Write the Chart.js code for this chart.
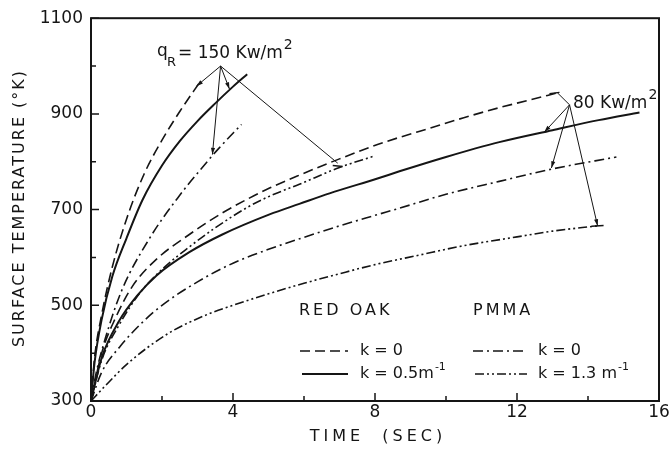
<!DOCTYPE html>
<html>
<head>
<meta charset="utf-8">
<script src="https://cdn.jsdelivr.net/npm/chart.js@4.4.1/dist/chart.umd.min.js"></script>
<style>
  html, body { margin: 0; background: #fff; }
  #wrap { width: 671px; height: 454px; }
</style>
</head>
<body>
<div id="wrap"><canvas id="chart"></canvas></div>
<script>
// tick values
const xTicks = [0, 4, 8, 12, 16];
const xMinor = [2, 6, 10, 14];
const yTicks = [300, 500, 700, 900, 1100];
const yMinor = [400, 600, 800, 1000];

// qR = 150 kW/m2
const oak0HiTime = [0, 0.1, 0.3, 0.6, 1, 1.5, 2, 2.5, 3.1];
const oak0HiTemp = [300, 390, 480, 580, 680, 775, 845, 905, 970];
const oak5HiTime = [0, 0.1, 0.3, 0.6, 1, 1.45, 2, 2.5, 3, 3.5, 4, 4.4];
const oak5HiTemp = [300, 380, 470, 560, 640, 720, 792, 843, 885, 922, 957, 983];
const pm0HiTime = [0, 0.15, 0.4, 0.86, 1.65, 2.5, 3.1, 3.6, 4.24];
const pm0HiTemp = [300, 360, 430, 530, 640, 730, 785, 828, 878];
const pm13HiTime = [0, 0.3, 0.8, 1.37, 2, 2.77, 3.5, 4.46, 5.03, 5.87, 7, 7.98];
const pm13HiTemp = [300, 385, 460, 525, 575, 622, 662, 707, 728, 753, 788, 812];

// qR = 80 kW/m2
const oak0LoTime = [0, 0.3, 0.7, 1.17, 1.84, 2.77, 3.7, 4.46, 5.03, 5.87, 7, 8.07, 8.69, 9.54, 10.5, 11.5, 12.3, 13.14];
const oak0LoTemp = [300, 400, 475, 540, 596, 648, 693, 724, 745, 772, 806, 836, 851, 870, 892, 913, 928, 944];
const oak5LoTime = [0, 0.3, 0.8, 1.3, 1.84, 2.77, 3.7, 5.03, 5.87, 6.72, 8.07, 8.69, 10, 11.5, 13, 14.3, 15.45];
const oak5LoTemp = [300, 390, 468, 520, 562, 611, 648, 690, 712, 734, 765, 780, 810, 841, 866, 887, 903];
const pm0LoTime = [0, 0.3, 0.83, 1.5, 2, 3, 4, 5, 6, 7, 8, 8.69, 10, 11.5, 13, 14.8];
const pm0LoTemp = [300, 360, 415, 468, 500, 549, 588, 617, 642, 666, 688, 703, 732, 759, 785, 810];
const pm13LoTime = [0, 0.38, 1.03, 2.15, 3.28, 4, 5, 6, 7, 8, 9.25, 10.46, 12, 13, 14.27];
const pm13LoTemp = [300, 330, 378, 440, 481, 500, 524, 546, 566, 585, 605, 624, 643, 655, 666];

const INK = "#151515";
const FONT = "DejaVu Sans";
const dashOak0 = [10, 5];
const dashPm0 = [10, 4, 2, 4];
const dashPm13 = [9, 3, 2, 3, 2, 3];

function pts(ts, vs) {
  return ts.map((t, i) => ({ x: t, y: vs[i] }));
}

function series(ts, vs, dash, width) {
  return {
    data: pts(ts, vs),
    borderColor: INK,
    borderWidth: width,
    borderDash: dash,
    pointRadius: 0,
    fill: false,
    cubicInterpolationMode: "monotone",
  };
}

function arrow(ctx, x1, y1, x2, y2) {
  ctx.beginPath();
  ctx.moveTo(x1, y1);
  ctx.lineTo(x2, y2);
  ctx.stroke();
  const a = Math.atan2(y2 - y1, x2 - x1);
  ctx.beginPath();
  ctx.moveTo(x2, y2);
  ctx.lineTo(x2 - 7 * Math.cos(a - 0.3), y2 - 7 * Math.sin(a - 0.3));
  ctx.lineTo(x2 - 7 * Math.cos(a + 0.3), y2 - 7 * Math.sin(a + 0.3));
  ctx.closePath();
  ctx.fill();
}

function dashSample(ctx, x1, x2, y, dash, w) {
  ctx.save();
  ctx.lineWidth = w;
  ctx.setLineDash(dash);
  ctx.beginPath();
  ctx.moveTo(x1, y);
  ctx.lineTo(x2, y);
  ctx.stroke();
  ctx.restore();
}

// text followed by a small raised suffix
function withSup(ctx, text, sup, x, y, size, supSize, rise) {
  ctx.font = size + "px " + FONT;
  ctx.fillText(text, x, y);
  const w = ctx.measureText(text).width;
  ctx.font = supSize + "px " + FONT;
  ctx.fillText(sup, x + w + 1, y - rise);
}

const decor = {
  id: "decor",
  afterDraw(chart) {
    const { ctx, chartArea: a, scales } = chart;
    const X = (v) => scales.x.getPixelForValue(v);
    const Y = (v) => scales.y.getPixelForValue(v);
    ctx.save();
    ctx.strokeStyle = INK;
    ctx.fillStyle = INK;

    // frame
    ctx.lineWidth = 2;
    ctx.strokeRect(a.left, a.top, a.right - a.left, a.bottom - a.top);

    // inward ticks
    ctx.lineWidth = 1.5;
    ctx.beginPath();
    xTicks.forEach((v) => { ctx.moveTo(X(v), a.bottom); ctx.lineTo(X(v), a.bottom - 8); });
    xMinor.forEach((v) => { ctx.moveTo(X(v), a.bottom); ctx.lineTo(X(v), a.bottom - 5); });
    yTicks.forEach((v) => { ctx.moveTo(a.left, Y(v)); ctx.lineTo(a.left + 8, Y(v)); });
    yMinor.forEach((v) => { ctx.moveTo(a.left, Y(v)); ctx.lineTo(a.left + 5, Y(v)); });
    ctx.stroke();

    // axis titles
    ctx.letterSpacing = "2px";
    ctx.font = "16px " + FONT;
    ctx.textAlign = "center";
    ctx.textBaseline = "middle";
    ctx.save();
    ctx.translate(20, 208);
    ctx.rotate(-Math.PI / 2);
    ctx.fillText("SURFACE TEMPERATURE (°K)", 0, 0);
    ctx.restore();
    ctx.letterSpacing = "4px";
    ctx.fillText("TIME  (SEC)", 378, 437);

    // q labels
    ctx.letterSpacing = "0px";
    ctx.textAlign = "left";
    ctx.textBaseline = "alphabetic";
    ctx.font = "17px " + FONT;
    ctx.fillText("q", 157, 56);
    ctx.font = "13px " + FONT;
    ctx.fillText("R", 167, 66);
    withSup(ctx, "= 150 Kw/m", "2", 178, 58, 17, 14, 9);
    withSup(ctx, "80 Kw/m", "2", 573, 108, 17, 14, 9);

    // arrows 150
    ctx.lineWidth = 1;
    const o1 = [X(3.65), Y(1000)];
    arrow(ctx, o1[0], o1[1], X(2.97), Y(958));
    arrow(ctx, o1[0], o1[1], X(3.9), Y(952));
    arrow(ctx, o1[0], o1[1], X(3.42), Y(815));
    ctx.beginPath();
    ctx.moveTo(o1[0], o1[1]);
    ctx.lineTo(X(6.95), Y(797));
    ctx.stroke();
    // arrows 80
    const o2 = [X(13.48), Y(919)];
    ctx.beginPath();
    ctx.moveTo(o2[0], o2[1]);
    ctx.lineTo(X(13.14), Y(944));
    ctx.stroke();
    arrow(ctx, o2[0], o2[1], X(12.77), Y(862));
    arrow(ctx, o2[0], o2[1], X(12.97), Y(787));
    arrow(ctx, o2[0], o2[1], X(14.27), Y(666));

    // end bars
    ctx.lineWidth = 1.5;
    ctx.beginPath();
    ctx.moveTo(X(6.95) - 5, Y(792)); ctx.lineTo(X(6.95) + 5, Y(790));
    ctx.moveTo(X(13.14) - 8, Y(942)); ctx.lineTo(X(13.14) + 2, Y(945));
    ctx.moveTo(X(14.27) - 6, Y(665)); ctx.lineTo(X(14.27) + 6, Y(667));
    ctx.stroke();

    // legend
    ctx.font = "16px " + FONT;
    ctx.letterSpacing = "3px";
    ctx.textBaseline = "middle";
    ctx.fillText("RED OAK", 299, 311);
    ctx.fillText("PMMA", 473, 311);
    ctx.letterSpacing = "0px";
    dashSample(ctx, 300, 348, 351, dashOak0, 1.5);
    dashSample(ctx, 302, 348, 374, [], 2);
    dashSample(ctx, 473, 525, 351, dashPm0, 1.5);
    dashSample(ctx, 475, 527, 374, dashPm13, 1.5);
    ctx.font = "16px " + FONT;
    ctx.fillText("k = 0", 360, 351);
    ctx.fillText("k = 0", 538, 351);
    withSup(ctx, "k = 0.5m", "-1", 360, 374, 16, 11, 7);
    withSup(ctx, "k = 1.3 m", "-1", 538, 374, 16, 11, 7);
    ctx.restore();
  },
};

new Chart(document.getElementById("chart"), {
  type: "line",
  data: {
    datasets: [
      series(oak0HiTime, oak0HiTemp, dashOak0, 1.6),
      series(oak5HiTime, oak5HiTemp, [], 2),
      series(pm0HiTime, pm0HiTemp, dashPm0, 1.6),
      series(pm13HiTime, pm13HiTemp, dashPm13, 1.6),
      series(oak0LoTime, oak0LoTemp, dashOak0, 1.6),
      series(oak5LoTime, oak5LoTemp, [], 2),
      series(pm0LoTime, pm0LoTemp, dashPm0, 1.6),
      series(pm13LoTime, pm13LoTemp, dashPm13, 1.6),
    ],
  },
  options: {
    responsive: true,
    maintainAspectRatio: false,
    animation: false,
    layout: { padding: { left: 0, right: 12, top: 12, bottom: 0 } },
    plugins: { legend: { display: false }, tooltip: { enabled: false } },
    scales: {
      x: {
        type: "linear",
        min: 0,
        max: 16,
        afterBuildTicks: (s) => { s.ticks = xTicks.map((v) => ({ value: v })); },
        afterFit: (s) => { s.height = 53; },
        grid: { display: false, drawTicks: false },
        border: { display: false },
        ticks: { color: INK, padding: 1, maxRotation: 0, callback: (v) => String(v), font: { family: FONT, size: 17 } },
      },
      y: {
        min: 300,
        max: 1100,
        afterBuildTicks: (s) => { s.ticks = yTicks.map((v) => ({ value: v })); },
        afterFit: (s) => { s.width = 91; },
        grid: { display: false, drawTicks: false },
        border: { display: false },
        ticks: { color: INK, padding: 8, callback: (v) => String(v), font: { family: FONT, size: 17 } },
      },
    },
  },
  plugins: [decor],
});
</script>
</body>
</html>
